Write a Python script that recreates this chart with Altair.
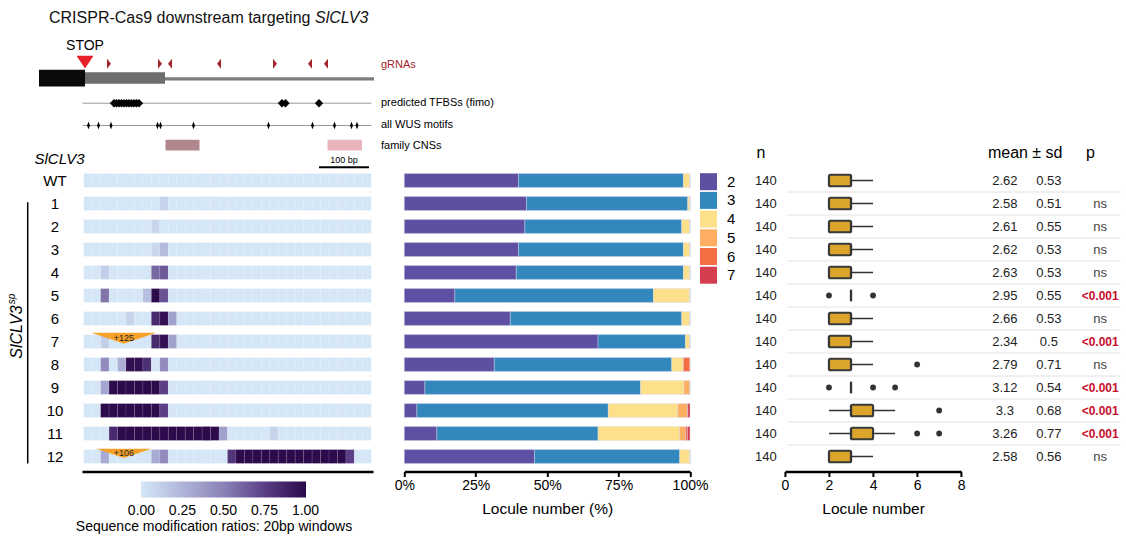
import altair as alt
import pandas as pd

FONT = "Liberation Sans"

# ---------------- data ----------------
rows = ["WT", "1", "2", "3", "4", "5", "6", "7", "8", "9", "10", "11", "12"]

# sequence modification ratio per 20 bp window (window index -> ratio); unlisted windows = 0
n_windows = 34
window_bp = 20
mod_ratio = {
    "WT": {},
    "1": {9: 0.10},
    "2": {8: 0.08},
    "3": {8: 0.08, 9: 0.22},
    "4": {2: 0.12, 8: 0.60, 9: 0.65},
    "5": {2: 0.55, 7: 0.20, 8: 1.00, 9: 0.68},
    "6": {5: 0.10, 8: 0.85, 9: 0.97, 10: 0.35},
    "7": {2: 0.12, 8: 0.85, 9: 0.97, 10: 0.35},
    "8": {2: 0.45, 4: 0.28, 5: 0.97, 6: 0.97, 7: 0.82, 9: 0.45},
    "9": {2: 0.32, 3: 1.0, 4: 1.0, 5: 1.0, 6: 1.0, 7: 1.0, 8: 1.0, 9: 0.75},
    "10": {2: 1.0, 3: 1.0, 4: 1.0, 5: 1.0, 6: 1.0, 7: 1.0, 8: 1.0, 9: 0.75},
    "11": {3: 0.85, 4: 1.0, 5: 1.0, 6: 1.0, 7: 1.0, 8: 1.0, 9: 1.0, 10: 1.0,
           11: 1.0, 12: 1.0, 13: 1.0, 14: 1.0, 15: 1.0, 16: 0.35, 22: 0.10},
    "12": {2: 0.30, 8: 0.30, 9: 0.45, 17: 0.80, 18: 1.0, 19: 1.0, 20: 1.0, 21: 1.0,
           22: 1.0, 23: 1.0, 24: 1.0, 25: 1.0, 26: 1.0, 27: 1.0, 28: 1.0, 29: 1.0,
           30: 1.0, 31: 0.75},
}
ratio_ticks = [0, 0.25, 0.5, 0.75, 1.0]
ratio_stops = [-0.003, 0, 0.25, 0.5, 0.75, 1.0, 1.003]
ratio_colors = ["#d5e7f7", "#d5e7f7", "#afb5da", "#8a82b6", "#5b3f86", "#2c0a4b", "#2c0a4b"]

# insertions (row, site in bp, inserted length)
ins_rows = ["7", "12"]
ins_site = [95, 95]
ins_len = [125, 106]
ins_label = ["+125", "+106"]

# locule number distribution (%)
locules = ["2", "3", "4", "5", "6", "7"]
locule_colors = ["#5e4fa2", "#3288bd", "#fee08b", "#fdae61", "#f46d43", "#d53e4f"]
locule_pct = {
    "2": [40.0, 42.8, 42.2, 40.0, 39.2, 17.7, 37.1, 67.8, 31.5, 7.2, 4.4, 11.4, 45.6],
    "3": [57.7, 56.4, 54.9, 57.7, 58.5, 69.5, 60.0, 30.6, 62.1, 75.5, 67.0, 56.4, 50.8],
    "4": [2.3, 0.8, 2.9, 2.3, 2.3, 12.8, 2.9, 1.6, 4.1, 15.2, 24.3, 28.6, 3.6],
    "5": [0, 0, 0, 0, 0, 0, 0, 0, 0, 2.1, 3.5, 2.0, 0],
    "6": [0, 0, 0, 0, 0, 0, 0, 0, 2.3, 0, 0, 0.7, 0],
    "7": [0, 0, 0, 0, 0, 0, 0, 0, 0, 0, 0.8, 0.9, 0],
}

# boxplot statistics of locule number
box_q1 = [2, 2, 2, 2, 2, 3, 2, 2, 2, 3, 3, 3, 2]
box_med = [3, 3, 3, 3, 3, 3, 3, 2, 3, 3, 3, 3, 3]
box_q3 = [3, 3, 3, 3, 3, 3, 3, 3, 3, 3, 4, 4, 3]
box_lo = [2, 2, 2, 2, 2, 3, 2, 2, 2, 3, 2, 2, 2]
box_hi = [4, 4, 4, 4, 4, 3, 4, 4, 4, 3, 5, 5, 4]
outlier_rows = ["5", "5", "8", "9", "9", "9", "10", "11", "11"]
outlier_vals = [2, 4, 6, 2, 4, 5, 7, 6, 7]

n_vals = ["140", "140", "140", "140", "140", "140", "140", "140", "140", "140", "140", "140", "140"]
mean_vals = ["2.62", "2.58", "2.61", "2.62", "2.63", "2.95", "2.66", "2.34", "2.79", "3.12", "3.3", "3.26", "2.58"]
sd_vals = ["0.53", "0.51", "0.55", "0.53", "0.53", "0.55", "0.53", "0.5", "0.71", "0.54", "0.68", "0.77", "0.56"]
p_vals = ["", "ns", "ns", "ns", "ns", "<0.001", "ns", "<0.001", "ns", "<0.001", "<0.001", "<0.001", "ns"]

# gene schematic (bp, 0 = stop codon)
gene_start = [-92, 0, 160]     # CDS end, 3'UTR, downstream
gene_end = [0, 160, 578]
grna_bp = [48, 150, 170, 268, 380, 450, 482]
grna_strand = ["+", "+", "-", "-", "+", "-", "-"]
tfbs_bp = [58, 63, 68, 73, 78, 83, 88, 93, 98, 103, 108, 394, 401, 468]
wus_bp = [7, 27, 52, 145, 151, 217, 367, 455, 499, 533, 544]
cns_start = [161, 485]
cns_end = [229, 554]
cns_kind = ["a", "b"]
track_span = [-5, 573]
scalebar = [468, 568]

# ---------------- frames ----------------
heat_df = pd.DataFrame([
    {"row": r, "start": w * window_bp, "end": (w + 1) * window_bp, "ratio": mod_ratio[r].get(w, 0.0)}
    for r in rows for w in range(n_windows)
])
ins_df = pd.DataFrame({"row": ins_rows, "site": ins_site, "ins": ins_len, "label": ins_label})
bar_df = pd.DataFrame([
    {"row": r, "locule": loc, "ord": k, "pct": locule_pct[loc][i]}
    for i, r in enumerate(rows) for k, loc in enumerate(locules)
])
box_df = pd.DataFrame({"row": rows, "q1": box_q1, "med": box_med, "q3": box_q3, "lo": box_lo, "hi": box_hi})
out_df = pd.DataFrame({"row": outlier_rows, "v": outlier_vals})
tab_df = pd.DataFrame({"row": rows, "n": n_vals, "mean": mean_vals, "sd": sd_vals, "p": p_vals})
sep_df = pd.DataFrame({"row": rows[1:]})

HEAT_W, ROWS_H = 291, 299
BAR_W, BOX_W = 285.7, 176.3

row_scale = alt.Scale(domain=rows, paddingInner=0.4, paddingOuter=0.2)


def yrow(**kw):
    return alt.Y("row:N", scale=row_scale, axis=None, **kw)


def one(text):
    return pd.DataFrame({"t": [text]})


def label(text, x, y, **kw):
    return alt.Chart(one(text)).mark_text(**kw).encode(x=alt.value(x), y=alt.value(y), text="t:N")


def bottom_axis(values, title, label_expr=None):
    kw = dict(values=values, title=title, labelFlush=False, domainColor="black", domainWidth=2.5,
              tickColor="black", tickWidth=2, tickSize=5, labelFontSize=14, labelColor="black",
              labelPadding=2, titleFontSize=15.5, titleColor="black", titleFontWeight="normal",
              titlePadding=9, offset=3.5, grid=False)
    if label_expr:
        kw["labelExpr"] = label_expr
    return alt.Axis(**kw)


# ---------------- schematic (own bp scale) ----------------
bp_scale = alt.Scale(domain=[-6, 576], nice=False, zero=False)


def bpx(field):
    return alt.X(field, type="quantitative", scale=bp_scale, axis=None)


gene_df = pd.DataFrame({"start": gene_start, "end": gene_end, "part": ["cds", "utr", "down"]})
cds = alt.Chart(gene_df).transform_filter("datum.part == 'cds'").mark_rect(color="#0a0a0a").encode(
    x=bpx("start"), x2="end", y=alt.value(-99.2), y2=alt.value(-82.5))
utr = alt.Chart(gene_df).transform_filter("datum.part == 'utr'").mark_rect(color="#6d6d6d").encode(
    x=bpx("start"), x2="end", y=alt.value(-96.8), y2=alt.value(-85.2))
down = alt.Chart(gene_df).transform_filter("datum.part == 'down'").mark_rect(color="#7d7d7d").encode(
    x=bpx("start"), x2="end", y=alt.value(-91.8), y2=alt.value(-88.6))

stop_df = pd.DataFrame({"bp": [0], "t": ["STOP"]})
stop_tri = alt.Chart(stop_df).mark_point(shape="M-1,-0.75L1,-0.75L0,0.75Z", filled=True, color="#e8202a",
                                         size=289, opacity=1, strokeWidth=0).encode(x=bpx("bp"), y=alt.value(-107))
stop_txt = alt.Chart(stop_df).mark_text(fontSize=14, color="black").encode(x=bpx("bp"), y=alt.value(-123.5), text="t:N")

grna_df = pd.DataFrame({"bp": grna_bp, "strand": grna_strand})
grna = alt.Chart(grna_df).mark_point(filled=True, color="#a3262a", size=100, opacity=1, strokeWidth=0).encode(
    x=bpx("bp"), y=alt.value(-105.2),
    shape=alt.Shape("strand:N", scale=alt.Scale(domain=["+", "-"], range=["M-0.4,-1L0.4,0L-0.4,1Z", "M0.4,-1L-0.4,0L0.4,1Z"]), legend=None))

span_df = pd.DataFrame({"start": [track_span[0]], "end": [track_span[1]]})
tfbs_line = alt.Chart(span_df).mark_rule(color="#9a9a9a", strokeWidth=1).encode(x=bpx("start"), x2="end", y=alt.value(-65.8))
wus_line = alt.Chart(span_df).mark_rule(color="#9a9a9a", strokeWidth=1).encode(x=bpx("start"), x2="end", y=alt.value(-43.5))
tfbs = alt.Chart(pd.DataFrame({"bp": tfbs_bp})).mark_point(shape="diamond", filled=True, color="black", size=70,
                                                           opacity=1, strokeWidth=0).encode(x=bpx("bp"), y=alt.value(-65.8))
wus = alt.Chart(pd.DataFrame({"bp": wus_bp})).mark_point(shape="M0,-1L0.4,0L0,1L-0.4,0Z", filled=True, color="black",
                                                         size=56, opacity=1, strokeWidth=0).encode(x=bpx("bp"), y=alt.value(-43.5))
cns_df = pd.DataFrame({"start": cns_start, "end": cns_end, "kind": cns_kind})
cns = alt.Chart(cns_df).mark_rect().encode(
    x=bpx("start"), x2="end", y=alt.value(-29.2), y2=alt.value(-18.5),
    color=alt.Color("kind:N", scale=alt.Scale(domain=["a", "b"], range=["#b0878c", "#e8b5bd"]), legend=None))
sb_df = pd.DataFrame({"start": [scalebar[0]], "end": [scalebar[1]], "mid": [(scalebar[0] + scalebar[1]) / 2], "t": ["100 bp"]})
sb_line = alt.Chart(sb_df).mark_rule(color="black", strokeWidth=2).encode(x=bpx("start"), x2="end", y=alt.value(-1.8))
sb_txt = alt.Chart(sb_df).mark_text(fontSize=9, color="black").encode(x=bpx("mid"), y=alt.value(-9.5), text="t:N")

schem = alt.layer(
    cds, utr, down, stop_tri, stop_txt, grna, tfbs_line, wus_line, tfbs, wus, cns, sb_line, sb_txt,
    label("CRISPR-Cas9 downstream targeting ", -33, -151.5, fontSize=16, align="left", color="#111"),
    label("SlCLV3", 233, -151.5, fontSize=16, align="left", fontStyle="italic", color="#111"),
    label("gRNAs", 299, -104.5, fontSize=11, align="left", color="#a3262a"),
    label("predicted TFBSs (fimo)", 299, -66.5, fontSize=11, align="left", color="black"),
    label("all WUS motifs", 299, -44.5, fontSize=11, align="left", color="black"),
    label("family CNSs", 299, -23.5, fontSize=11, align="left", color="black"),
)

# ---------------- heatmap ----------------
heat_x = alt.Scale(domain=[-4, 684], nice=False, zero=False)
heat_y_axis = alt.Axis(title=None, ticks=False, tickSize=0, domain=False, labelPadding=27.5,
                       labelAlign="center", labelFontSize=15, labelColor="black", grid=False)
heat_rect = alt.Chart(heat_df).mark_rect(stroke="white", strokeWidth=0.5, strokeOpacity=0.2).encode(
    x=alt.X("start:Q", scale=heat_x,
            axis=alt.Axis(domain=True, domainColor="black", domainWidth=2.5, ticks=False, labels=False,
                          title=None, grid=False, offset=3.5)),
    x2="end:Q",
    y=alt.Y("row:N", scale=row_scale, axis=heat_y_axis),
    color=alt.Color("ratio:Q",
                    scale=alt.Scale(domain=ratio_stops, range=ratio_colors, interpolate="rgb"),
                    legend=alt.Legend(orient="none", legendX=59, legendY=312.5, direction="horizontal",
                                      gradientLength=165, gradientThickness=16, title=None,
                                      values=ratio_ticks, format=".2f", labelFontSize=14,
                                      labelAlign="center", labelOffset=6, labelOverlap=False,
                                      gradientStrokeWidth=0, padding=0, labelColor="black")),
)
ins_tri = alt.Chart(ins_df).mark_point(shape="M-1,-0.17L1,-0.17L0,0.17Z", filled=True, color="#f5a12a",
                                       opacity=1, strokeWidth=0, yOffset=-3.2).encode(
    x=alt.X("site:Q", scale=heat_x), y=alt.Y("row:N", scale=row_scale, axis=heat_y_axis),
    size=alt.Size("ins:Q", scale=alt.Scale(type="pow", exponent=2, domain=[0, 125], range=[0, 4200]), legend=None))
ins_txt = alt.Chart(ins_df).mark_text(fontSize=9, color="#222", yOffset=-4).encode(
    x=alt.X("site:Q", scale=heat_x), y=alt.Y("row:N", scale=row_scale, axis=heat_y_axis), text="label:N")

heat = alt.layer(
    heat_rect, ins_tri, ins_txt,
    label("SlCLV3", -22.5, -10.5, fontSize=15, fontStyle="italic", color="black"),
    alt.Chart(one("")).mark_rule(color="black", strokeWidth=1.5).encode(
        x=alt.value(-54.3), y=alt.value(33.2), y2=alt.value(294.5)),
    label("SlCLV3", -65.5, 163, fontSize=16, fontStyle="italic", angle=270, color="black"),
    label("sp", -70, 130, fontSize=10, fontStyle="italic", angle=270, color="black"),
    label("Sequence modification ratios: 20bp windows", 132, 357.5, fontSize=14, color="black"),
)

left = alt.layer(schem, heat).resolve_scale(x="independent").properties(width=HEAT_W, height=ROWS_H)

# ---------------- stacked bars ----------------
bars = alt.Chart(bar_df).mark_bar(stroke="#d9d9ec", strokeWidth=0.4).encode(
    x=alt.X("pct:Q", stack="zero", scale=alt.Scale(domain=[0, 100], nice=False),
            axis=bottom_axis([0, 25, 50, 75, 100], "Locule number (%)", "datum.value + '%'")),
    y=yrow(),
    color=alt.Color("locule:N", scale=alt.Scale(domain=locules, range=locule_colors),
                    legend=alt.Legend(orient="none", legendX=618, legendY=4.2, title=None,
                                      symbolType="square", symbolSize=289, symbolStrokeWidth=0,
                                      labelFontSize=15, labelOffset=10, rowPadding=1.7, padding=0,
                                      labelColor="black")),
    order=alt.Order("ord:Q", sort="ascending"),
).properties(width=BAR_W, height=ROWS_H)

spacer = alt.Chart(one("")).mark_point(opacity=0).encode(x=alt.value(0), y=alt.value(0)).properties(
    width=31.1, height=ROWS_H)

# ---------------- boxplot + table ----------------
box_x = alt.Scale(domain=[0, 8], nice=False, zero=True)
seps = alt.Chart(sep_df).mark_rule(color="#e2e2e2", strokeWidth=1, yOffset=-4.6).encode(
    y=yrow(bandPosition=0), x=alt.value(2.3), x2=alt.value(335.3))
whisk = alt.Chart(box_df).mark_rule(color="#333333", strokeWidth=1.6).encode(
    x=alt.X("lo:Q", scale=box_x, axis=bottom_axis([0, 2, 4, 6, 8], "Locule number")), x2="hi:Q", y=yrow())
boxes = alt.Chart(box_df).mark_bar(fill="#daa52a", stroke="#3a3a3a", strokeWidth=2.2, cornerRadius=1.5,
                                   height=11.5).encode(x=alt.X("q1:Q", scale=box_x), x2="q3:Q", y=yrow())
meds = alt.Chart(box_df).mark_tick(color="#333333", thickness=2.2, size=11.5).encode(
    x=alt.X("med:Q", scale=box_x), y=yrow())
outs = alt.Chart(out_df).mark_circle(color="#333333", size=34, opacity=1).encode(
    x=alt.X("v:Q", scale=box_x), y=yrow())

tab_n = alt.Chart(tab_df).mark_text(fontSize=13, color="#222").encode(x=alt.value(-19), y=yrow(), text="n:N")
tab_mean = alt.Chart(tab_df).mark_text(fontSize=13, color="#222").encode(x=alt.value(220), y=yrow(), text="mean:N")
tab_sd = alt.Chart(tab_df).mark_text(fontSize=13, color="#222").encode(x=alt.value(264), y=yrow(), text="sd:N")
tab_sig = alt.Chart(tab_df).transform_filter("datum.p == '<0.001'").mark_text(
    fontSize=12, fontWeight="bold", color="#c8102e").encode(x=alt.value(315.3), y=yrow(), text="p:N")
tab_ns = alt.Chart(tab_df).transform_filter("datum.p == 'ns'").mark_text(
    fontSize=13, color="#444").encode(x=alt.value(315.3), y=yrow(), text="p:N")

box = alt.layer(
    seps, whisk, boxes, meds, outs, tab_n, tab_mean, tab_sd, tab_sig, tab_ns,
    label("n", -24, -16.5, fontSize=16, color="black"),
    label("mean ± sd", 240.3, -16.5, fontSize=16, color="black"),
    label("p", 305.6, -16.5, fontSize=16, color="black"),
).properties(width=BOX_W, height=ROWS_H)

chart = alt.hconcat(left, bars, spacer, box, spacing=31.3, bounds="flush").properties(
    padding={"left": 7, "top": 9, "right": 4, "bottom": 4}
).configure(font=FONT).configure_view(stroke=None)

chart.save("out.html", embed_options={"renderer": "svg", "actions": False})
